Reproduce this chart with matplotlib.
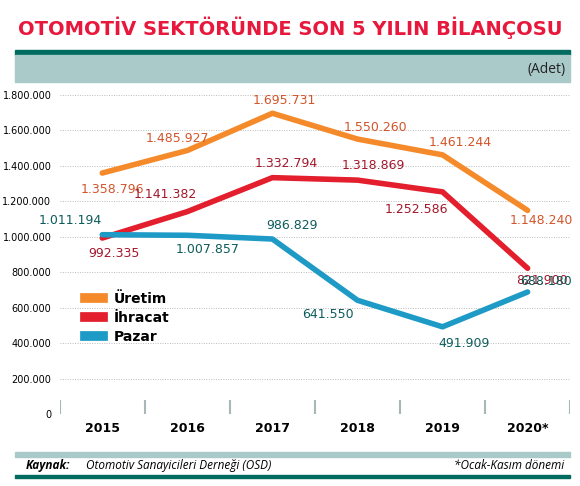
import matplotlib
matplotlib.use("Agg")
import matplotlib.pyplot as plt
from matplotlib.lines import Line2D

NARROW = ["Liberation Sans Narrow", "DejaVu Sans"]
plt.rcParams["font.family"] = NARROW

years = ["2015", "2016", "2017", "2018", "2019", "2020*"]
uretim = [1358796, 1485927, 1695731, 1550260, 1461244, 1148240]
ihracat = [992335, 1141382, 1332794, 1318869, 1252586, 821900]
pazar = [1011194, 1007857, 986829, 641550, 491909, 688180]
yticks = [0, 200000, 400000, 600000, 800000, 1000000, 1200000, 1400000, 1600000, 1800000]


def tr(v):
    return f"{v:,}".replace(",", ".")


series = [
    ("Üretim", uretim, "#f58a2b", "#d2552b",
     [(10, -16), (-10, 12), (12, 13), (18, 12), (18, 12), (14, -10)]),
    ("İhracat", ihracat, "#e31e2d", "#a3172b",
     [(12, -15), (-22, 17), (14, 14), (16, 15), (-26, -18), (14, -12)]),
    ("Pazar", pazar, "#1e9ac6", "#0d5c5c",
     [(-32, 14), (20, -14), (20, 14), (-30, -14), (22, -17), (18, 10)]),
]

fig = plt.figure(figsize=(5.8, 4.86), dpi=100)
fig.patch.set_facecolor("white")

fig.text(0.5, 0.942, "OTOMOTİV SEKTÖRÜNDE SON 5 YILIN BİLANÇOSU", ha="center", va="center",
         color="#e8173c", fontsize=14, fontweight="bold")
fig.patches.append(plt.Rectangle((0.026, 0.887), 0.957, 0.011, transform=fig.transFigure,
                                 color="#006b5e"))
fig.patches.append(plt.Rectangle((0.026, 0.832), 0.957, 0.055, transform=fig.transFigure,
                                 color="#aacaca"))
fig.text(0.975, 0.858, "(Adet)", ha="right", va="center", fontsize=10, color="#222222",
         family=["Open Sans", "DejaVu Sans"])

ax = fig.add_axes([0.103, 0.148, 0.88, 0.657])
n = len(years)
x = list(range(n))
for name, vals, col, tcol, offs in series:
    ax.plot(x, vals, color=col, linewidth=4, solid_capstyle="round", zorder=3)
    for xi, v, (dx, dy) in zip(x, vals, offs):
        ax.annotate(tr(v), (xi, v), xytext=(dx, dy), textcoords="offset pixels",
                    ha="center", va="center", color=tcol, fontsize=9, zorder=4)

ax.set_xlim(-0.5, n - 0.5)
ax.set_ylim(0, 1800000)
ax.set_yticks(yticks)
ax.set_yticklabels([tr(t) for t in yticks], fontsize=7)
ax.set_xticks(x)
ax.set_xticklabels(years, fontsize=9, fontweight="bold")
ax.tick_params(length=0, pad=6)
ax.grid(axis="y", color="#bbbbbb", linestyle=(0, (1, 1.5)), linewidth=0.7)
ax.set_axisbelow(True)
for s in ax.spines.values():
    s.set_visible(False)
ax.vlines([i - 0.5 for i in range(n + 1)], 0, 80000, color="#a8b8b8", linewidth=1.5)

handles = [Line2D([0], [0], color=c, linewidth=7) for _, _, c, _, _ in series]
leg = fig.legend(handles, [s[0] for s in series], loc="upper left",
                 bbox_to_anchor=(0.125, 0.425), frameon=False, handlelength=1.3,
                 labelspacing=0.35, prop={"family": NARROW, "size": 10, "weight": "bold"})

fig.patches.append(plt.Rectangle((0.026, 0.060), 0.957, 0.009, transform=fig.transFigure,
                                 color="#aacaca"))
fig.patches.append(plt.Rectangle((0.026, 0.016), 0.957, 0.007, transform=fig.transFigure,
                                 color="#006b5e"))
fig.text(0.045, 0.042, "Kaynak:", fontsize=8.5, fontstyle="italic", fontweight="bold",
         va="center", family=["Open Sans", "DejaVu Sans"])
fig.text(0.148, 0.042, "Otomotiv Sanayicileri Derneği (OSD)", fontsize=8.5, fontstyle="italic",
         va="center", family=["Open Sans", "DejaVu Sans"])
fig.text(0.972, 0.042, "*Ocak-Kasım dönemi", fontsize=8.5, fontstyle="italic", ha="right",
         va="center", family=["Open Sans", "DejaVu Sans"])

fig.savefig("out.png", dpi=100)
